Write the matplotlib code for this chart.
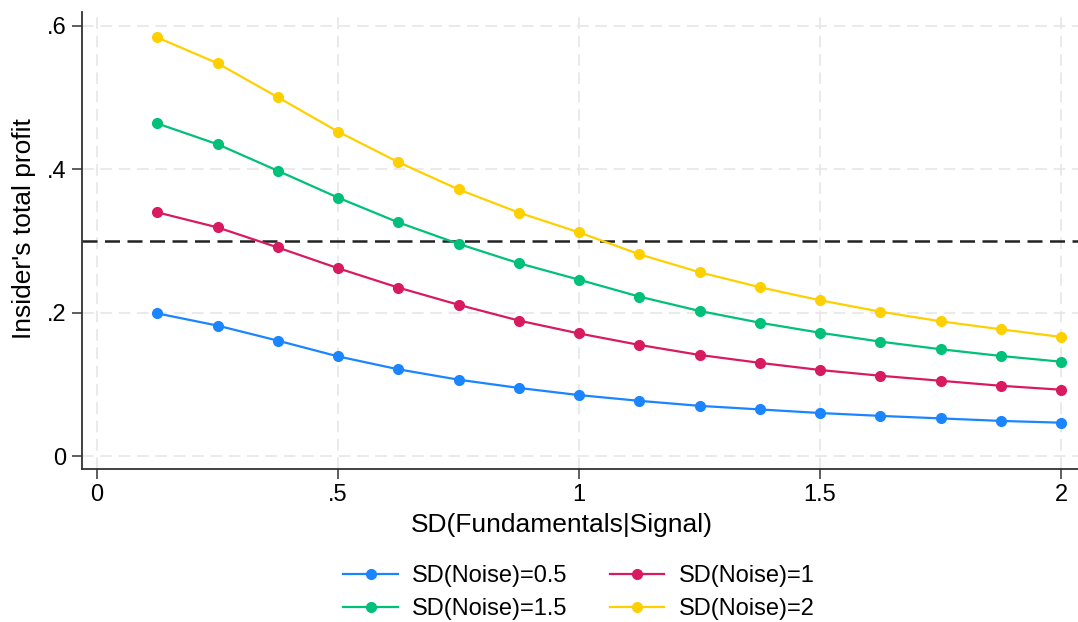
import matplotlib
matplotlib.use("Agg")
from matplotlib import pyplot as plt

plt.rcParams['font.family'] = ['Liberation Sans', 'DejaVu Sans']

sd_fund = [0.125, 0.25, 0.375, 0.5, 0.625, 0.75, 0.875, 1.0,
           1.125, 1.25, 1.375, 1.5, 1.625, 1.75, 1.875, 2.0]

profit_n05 = [0.199, 0.182, 0.161, 0.139, 0.121, 0.1065, 0.095, 0.085,
              0.077, 0.070, 0.065, 0.060, 0.056, 0.0525, 0.049, 0.0465]
profit_n1 = [0.340, 0.319, 0.291, 0.262, 0.235, 0.211, 0.189, 0.171,
             0.155, 0.141, 0.130, 0.120, 0.112, 0.105, 0.098, 0.0925]
profit_n15 = [0.464, 0.435, 0.398, 0.3605, 0.326, 0.296, 0.269, 0.246,
              0.2224, 0.2024, 0.186, 0.172, 0.1596, 0.149, 0.1396, 0.1316]
profit_n2 = [0.584, 0.548, 0.5006, 0.4526, 0.410, 0.372, 0.3396, 0.312,
             0.2815, 0.2564, 0.2355, 0.2173, 0.2014, 0.188, 0.1768, 0.1661]

labels = ['SD(Noise)=0.5', 'SD(Noise)=1', 'SD(Noise)=1.5', 'SD(Noise)=2']
colors = ['#1a85ff', '#d81b60', '#00c07a', '#ffd000']
threshold = 0.3

fig = plt.figure(figsize=(10.78, 6.22), dpi=100)
ax = fig.add_axes([82/1078, 1 - 469/622, 1 - 82/1078, (469 - 12)/622])

grid_kw = dict(color='#e6e6e6', lw=1.2, dashes=(7, 4), zorder=0)
for gx in [0, 0.5, 1, 1.5, 2]:
    ax.axvline(gx, **grid_kw)
for gy in [0, 0.2, 0.4, 0.6]:
    ax.axhline(gy, **grid_kw)

ax.axhline(threshold, color='#222222', lw=1.8, dashes=(6, 3), zorder=1)

series = [profit_n05, profit_n1, profit_n15, profit_n2]
lines = []
for ys, lab, c in zip(series, labels, colors):
    l, = ax.plot(sd_fund, ys, color=c, lw=1.6, marker='o', markersize=7,
                 label=lab, zorder=3)
    lines.append(l)

ax.set_xlim(-0.0311, 2.035)
ax.set_ylim(-0.0181, 0.6195)
ax.set_xticks([0, 0.5, 1, 1.5, 2])
ax.set_xticklabels(['0', '.5', '1', '1.5', '2'])
ax.set_yticks([0, 0.2, 0.4, 0.6])
ax.set_yticklabels(['0', '.2', '.4', '.6'])
ax.tick_params(labelsize=17, length=7, width=1.1, color='#333333', pad=4)

for s in ['top', 'right']:
    ax.spines[s].set_visible(False)
for s in ['left', 'bottom']:
    ax.spines[s].set_linewidth(1.3)
    ax.spines[s].set_color('#333333')

ax.set_xlabel('SD(Fundamentals|Signal)', fontsize=19, labelpad=5)
ax.xaxis.label.set_x(0.482)
ax.set_ylabel("Insider's total profit", fontsize=19, labelpad=8)
ax.yaxis.label.set_y(0.527)

# row order as in the reference: 0.5, 1 on top; 1.5, 2 below
order = [0, 2, 1, 3]
fig.legend(handles=[lines[i] for i in order], loc='center',
           bbox_to_anchor=(0.537, 0.047), ncol=2, frameon=False,
           fontsize=17, handlelength=2.3, handletextpad=0.6,
           columnspacing=1.8, labelspacing=0.48, markerscale=1.0)

fig.savefig('out.png', dpi=100)
